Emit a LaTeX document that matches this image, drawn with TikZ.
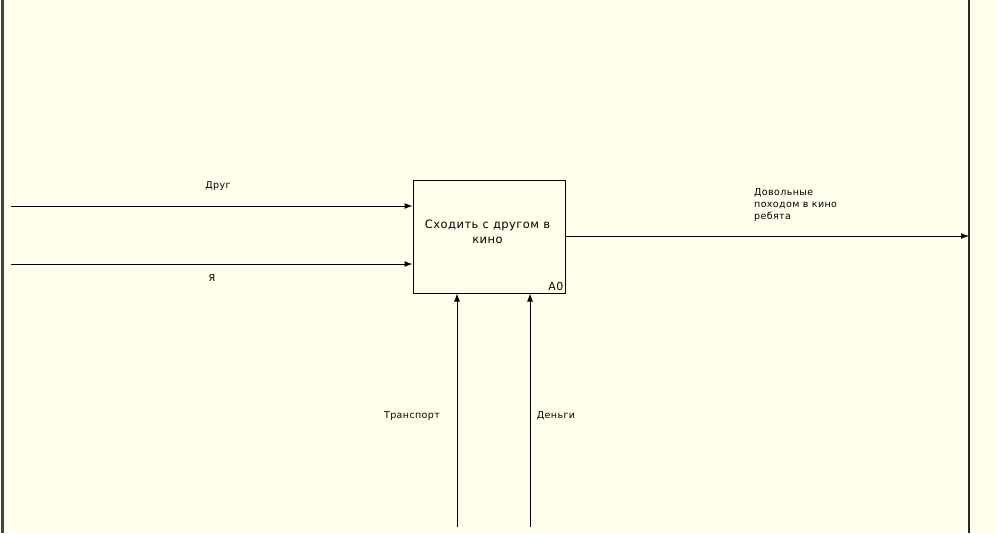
\documentclass[tikz,border=0pt]{standalone}
\usepackage{fontspec}
\setmainfont{DejaVu Sans}[LetterSpace=4]
\usetikzlibrary{arrows.meta}
\definecolor{bg}{HTML}{FFFFEB}
\definecolor{frameL}{HTML}{3C4650}
\tikzset{
  conn/.style={line width=1pt,-{Latex[length=8pt,width=6pt]}},
  lbl/.style={font=\fontsize{9.5}{10}\selectfont,inner sep=0pt},
  func/.style={draw,line width=1pt,minimum width=152pt,minimum height=113pt,inner sep=0pt,fill=bg}
}
\begin{document}
\begin{tikzpicture}[x=1pt,y=-1pt]
\fill[bg] (0,0) rectangle (996,533);
\useasboundingbox (0,0) rectangle (996,533);
\draw[frameL,line width=2.5pt] (2.5,0) -- (2.5,533);
\draw[black!85,line width=1.3pt] (969,0) -- (969,533);
\node[func] (a0) at (489,236.5) {};
\node[align=center,font=\fontsize{11.5}{15}\selectfont,inner sep=0pt] (t) at (487.5,232) {Сходить с другом в\\кино};
\node[lbl,anchor=south east,font=\fontsize{11}{12}\selectfont] (num) at ([xshift=-2pt,yshift=2.5pt]a0.south east) {A0};
% coordinates
\coordinate (in1) at (11,206);
\coordinate (in2) at (11,264);
\coordinate (outEnd) at (969,236);
\coordinate (c1) at (457,527);
\coordinate (c2) at (530,527);
\draw[conn] (in1) -- (in1 -| a0.west);
\draw[conn] (in2) -- (in2 -| a0.west);
\draw[conn] (outEnd -| a0.east) -- (outEnd);
\draw[conn] (c1) -- (c1 |- a0.south);
\draw[conn] (c2) -- (c2 |- a0.south);
\node[lbl] (l1) at (218,186) {Друг};
\node[lbl] (l2) at (212,278) {Я};
\node[lbl] (l3) at (412,416) {Транспорт};
\node[lbl] (l4) at (556,416) {Деньги};
\node[lbl,anchor=north west,align=left,font=\fontsize{9.5}{12}\selectfont] (l5) at (754,188) {Довольные\\походом в кино\\ребята};
\end{tikzpicture}
\end{document}
